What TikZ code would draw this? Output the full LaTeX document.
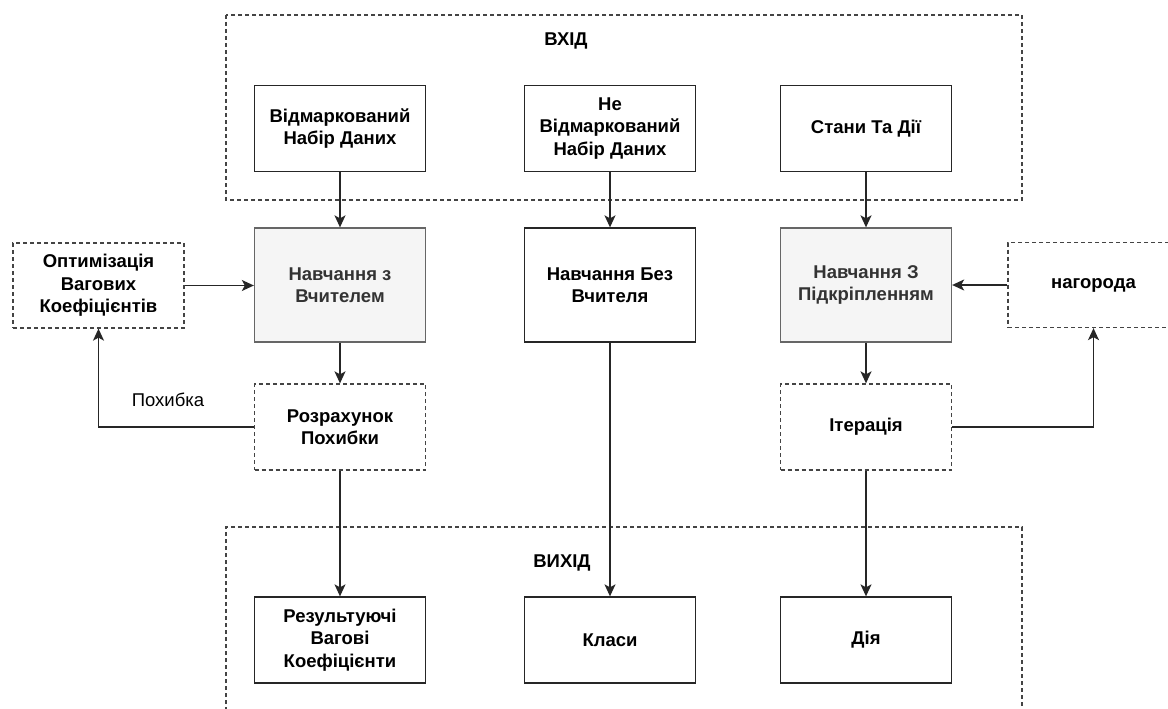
\documentclass[tikz,border=0pt]{standalone}
\usepackage{fontspec}
\setmainfont{Liberation Sans}
\usetikzlibrary{arrows.meta}

\definecolor{boxgray}{HTML}{F5F5F5}
\definecolor{edgegray}{HTML}{666666}
\definecolor{textgray}{HTML}{333333}
\definecolor{dashgray}{HTML}{444444}

\tikzset{
  base/.style={rectangle, minimum width=171pt, align=center, inner sep=2pt,
    font=\fontsize{18.5}{22.5}\selectfont\bfseries},
  solidbox/.style={base, draw=black!85, line width=1.3pt, fill=white},
  graybox/.style={base, draw=edgegray, line width=1.3pt, fill=boxgray, text=textgray},
  dashbox/.style={base, draw=dashgray, line width=1.3pt, dash pattern=on 4pt off 3pt, fill=white},
  frame/.style={draw=dashgray, line width=1.3pt, dash pattern=on 4pt off 3pt},
  conn/.style={draw=black!85, line width=1.3pt, -{Stealth[length=12pt,width=11pt,inset=3pt]}},
  heading/.style={font=\fontsize{18.5}{22.5}\selectfont\bfseries},
  plain/.style={font=\fontsize{18.5}{22.5}\selectfont}
}

\begin{document}
\begin{tikzpicture}[x=1pt,y=-1pt]
  \clip (0,0) rectangle (1168,709);
  \fill[white] (0,0) rectangle (1168,709);

  % input and output groups
  \draw[frame] (226,15) rectangle (1022,200);
  \draw[frame] (226,760) -- (226,527) -- (1022,527) -- (1022,760);
  \node[heading] (inlabel) at (566,41) {ВХІД};
  \node[heading] (outlabel) at (562,563) {ВИХІД};

  % inputs
  \node[solidbox, minimum height=86pt] (labeled) at (340,128.5) {Відмаркований\\Набір Даних};
  \node[solidbox, minimum height=86pt] (unlabeled) at (610,128.5) {Не\\Відмаркований\\Набір Даних};
  \node[solidbox, minimum height=86pt] (states) at (866,128.5) {Стани Та Дії};

  % learning methods
  \node[graybox, minimum height=114pt] (sup) at (340,285) {Навчання з\\Вчителем};
  \node[solidbox, minimum height=114pt] (unsup) at (610,285) {Навчання Без\\Вчителя};
  \node[graybox, minimum height=114pt] (rl) at (866,285) {Навчання З\\Підкріпленням};

  % feedback loops
  \node[dashbox, minimum height=85pt] (opt) at (98.5,285.5) {Оптимізація\\Вагових\\Коефіцієнтів};
  \node[dashbox, minimum height=85pt] (reward) at (1093.5,285) {нагорода};
  \node[dashbox, minimum height=86pt] (err) at (340,427) {Розрахунок\\Похибки};
  \node[dashbox, minimum height=86pt] (iter) at (866,427) {Ітерація};

  % outputs
  \node[solidbox, minimum height=86pt] (weights) at (340,640) {Результуючі\\Вагові\\Коефіцієнти};
  \node[solidbox, minimum height=86pt] (classes) at (610,640) {Класи};
  \node[solidbox, minimum height=86pt] (action) at (866,640) {Дія};

  % connectors
  \draw[conn] (labeled) -- (sup);
  \draw[conn] (unlabeled) -- (unsup);
  \draw[conn] (states) -- (rl);
  \draw[conn] (opt.east) -- (sup.west |- opt.east);
  \draw[conn] (reward.west) -- (rl.east |- reward.west);
  \draw[conn] (sup) -- (err);
  \draw[conn] (rl) -- (iter);
  \draw[conn] (err.west) -| (opt.south);
  \draw[conn] (iter.east) -| (reward.south);
  \draw[conn] (err) -- (weights);
  \draw[conn] (unsup) -- (classes);
  \draw[conn] (iter) -- (action);

  \node[plain] (errlabel) at (168,400) {Похибка};
\end{tikzpicture}
\end{document}
